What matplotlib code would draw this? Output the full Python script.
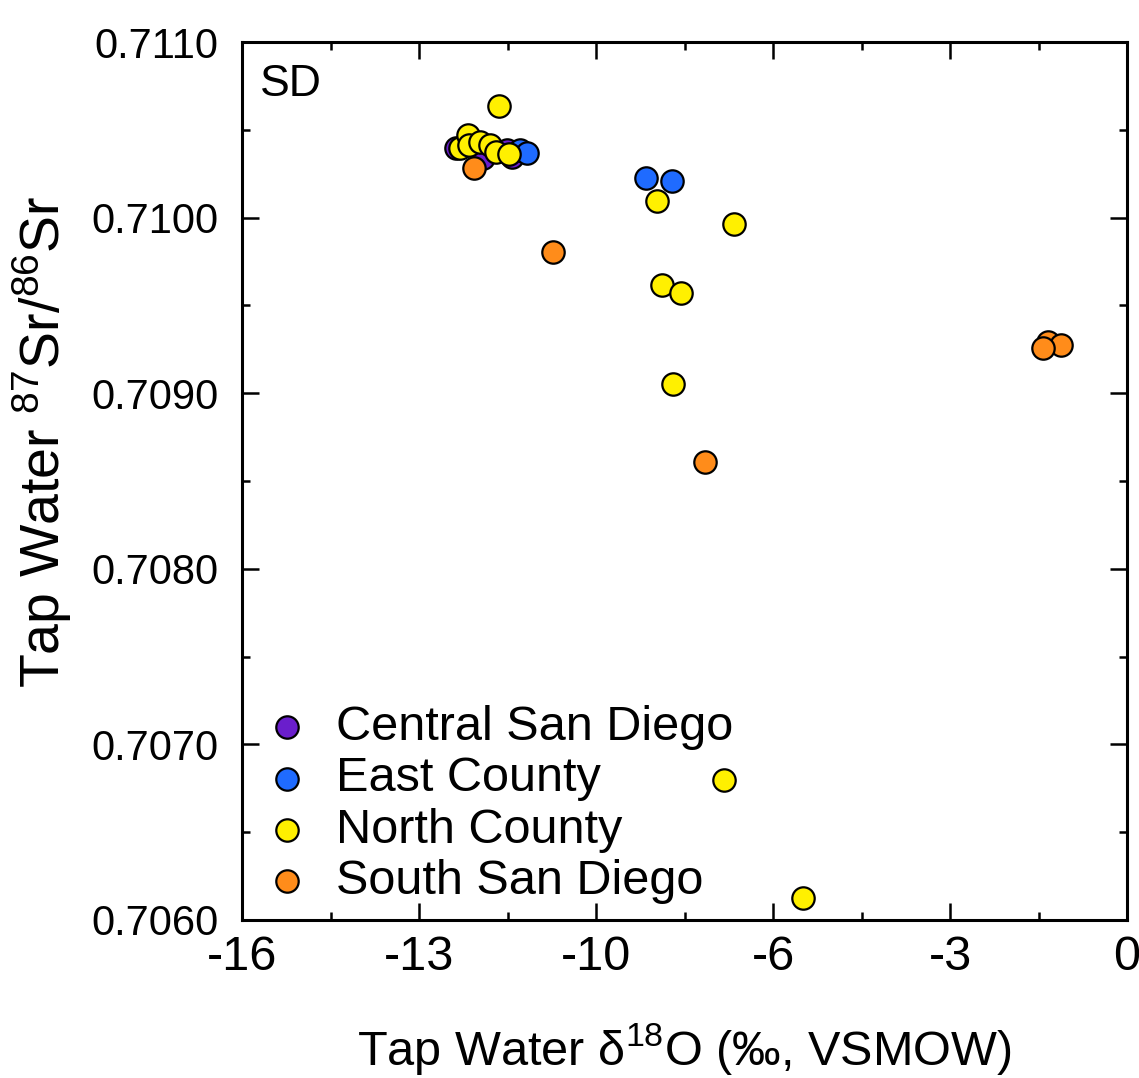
import matplotlib
matplotlib.use("Agg")
import matplotlib.pyplot as plt
from matplotlib.ticker import FixedLocator, MultipleLocator, FuncFormatter

plt.rcParams['font.family'] = ['Liberation Sans', 'DejaVu Sans']
plt.rcParams['mathtext.fontset'] = 'custom'
plt.rcParams['mathtext.rm'] = 'Liberation Sans'
plt.rcParams['mathtext.it'] = 'Liberation Sans:italic'
plt.rcParams['mathtext.bf'] = 'Liberation Sans:bold'

# Tap water d18O (x) and 87Sr/86Sr (y) by region
central_x = [-12.13, -11.64, -11.21, -11.12]
central_y = [0.710398, 0.710341, 0.710386, 0.710347]

east_x = [-10.97, -10.85, -8.69, -8.22]
east_y = [0.710386, 0.710369, 0.710227, 0.710210]

north_x = [-11.35, -12.06, -11.91, -11.90, -11.70, -11.52, -11.41, -11.17,
           -8.50, -7.10, -8.41, -8.06, -8.21, -7.28, -5.86]
north_y = [0.710636, 0.710398, 0.710472, 0.710415, 0.710432, 0.710415, 0.710375, 0.710364,
           0.710097, 0.709966, 0.709614, 0.709568, 0.709051, 0.706795, 0.706125]

south_x = [-11.80, -10.38, -7.63, -1.43, -1.19, -1.52]
south_y = [0.710284, 0.709807, 0.708608, 0.709290, 0.709273, 0.709256]

series = [
    ("Central San Diego", central_x, central_y, "#6A1ECC"),
    ("East County", east_x, east_y, "#1F6BFF"),
    ("North County", north_x, north_y, "#FFF000"),
    ("South San Diego", south_x, south_y, "#FF8C1A"),
]

x_ticks = [-16, -12.8, -9.6, -6.4, -3.2, 0]

fig = plt.figure(figsize=(11.39, 10.78), dpi=100)
ax = fig.add_axes([0.2125, 0.1466, 0.777, 0.8144])

for label, xs, ys, color in series:
    ax.scatter(xs, ys, s=260, c=color, edgecolors="black", linewidths=1.6,
               label=label, zorder=3)

ax.set_xlim(-16, 0)
ax.set_ylim(0.7060, 0.7110)

ax.xaxis.set_major_locator(FixedLocator(x_ticks))
ax.xaxis.set_minor_locator(MultipleLocator(1.6))
ax.xaxis.set_major_formatter(FuncFormatter(lambda v, p: "%d" % round(v)))
ax.yaxis.set_major_locator(MultipleLocator(0.001))
ax.yaxis.set_minor_locator(MultipleLocator(0.0005))
ax.yaxis.set_major_formatter(FuncFormatter(lambda v, p: "%.4f" % v))

ax.tick_params(which="both", direction="in", top=True, right=True, width=1.8)
ax.tick_params(which="major", length=12)
ax.tick_params(which="minor", length=6)
ax.tick_params(axis="x", which="major", labelsize=35, pad=11)
ax.tick_params(axis="y", which="major", labelsize=30, pad=17)
for sp in ax.spines.values():
    sp.set_linewidth(2.2)

ax.set_xlabel("Tap Water δ$^{18}$O (‰, VSMOW)", fontsize=35)
ax.set_ylabel("Tap Water $^{87}$Sr/$^{86}$Sr", fontsize=40)
ax.xaxis.set_label_coords(0.5, -0.115)
ax.yaxis.set_label_coords(-0.19, 0.545)

ax.text(0.02, 0.975, "SD", transform=ax.transAxes, fontsize=32,
        ha="left", va="top")

leg = ax.legend(loc="lower left", frameon=False, fontsize=35,
                labelspacing=0.13, handletextpad=0.4, borderaxespad=0.2,
                handlelength=1.2, markerscale=1.0,
                bbox_to_anchor=(-0.015, -0.015))

fig.savefig("out.png", dpi=100)
